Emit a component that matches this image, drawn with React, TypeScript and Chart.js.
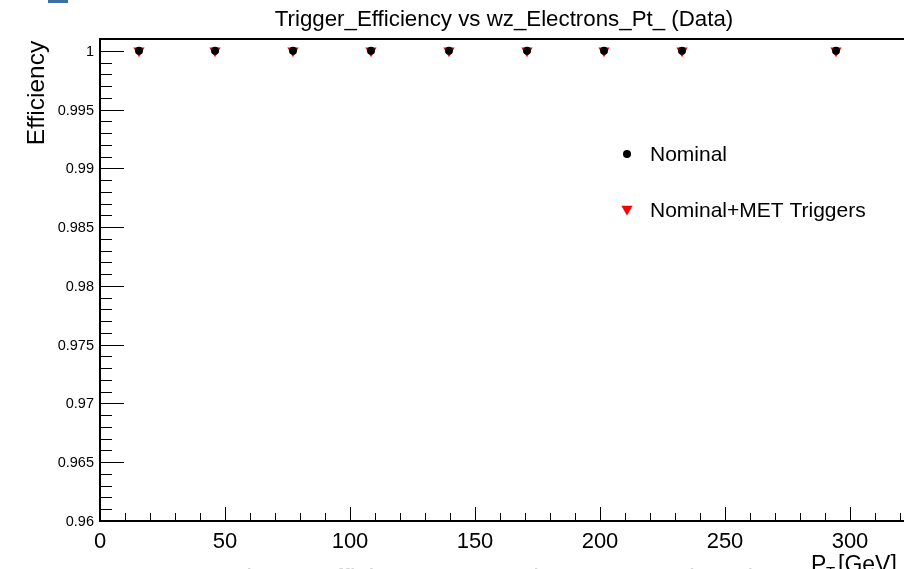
import React, { useEffect, useRef } from "react";
import { Chart, registerables } from "chart.js";

Chart.register(...registerables);

const ptValues = [15.6, 46, 77.2, 108.4, 139.6, 170.8, 201.6, 232.8, 294.4];
const nominalEff = [1, 1, 1, 1, 1, 1, 1, 1, 1];
const nominalMetEff = [1, 1, 1, 1, 1, 1, 1, 1, 1];

const xTickValues = [0, 50, 100, 150, 200, 250, 300];
const xTickLabels = ["0", "50", "100", "150", "200", "250", "300"];
const yTickValues = [0.96, 0.965, 0.97, 0.975, 0.98, 0.985, 0.99, 0.995, 1];
const yTickLabels = ["0.96", "0.965", "0.97", "0.975", "0.98", "0.985", "0.99", "0.995", "1"];

const titleText = "Trigger_Efficiency vs wz_Electrons_Pt_ (Data)";
const legendLabels = ["Nominal", "Nominal+MET Triggers"];
const FONT = '"Liberation Sans", Arial, Helvetica, sans-serif';

function drawCircle(ctx: CanvasRenderingContext2D, x: number, y: number, r: number, color: string) {
  ctx.fillStyle = color;
  ctx.beginPath();
  ctx.arc(x, y, r, 0, Math.PI * 2);
  ctx.fill();
}
function drawDownTri(ctx: CanvasRenderingContext2D, x: number, y: number, r: number, color: string) {
  ctx.fillStyle = color;
  ctx.beginPath();
  const h = r * Math.sqrt(3) / 2;
  ctx.moveTo(x - h, y - r / 2);
  ctx.lineTo(x + h, y - r / 2);
  ctx.lineTo(x, y + r);
  ctx.closePath();
  ctx.fill();
}

const rootPlugin = {
  id: "rootAxes",
  afterDraw(chart: any) {
    const ctx: CanvasRenderingContext2D = chart.ctx;
    const { left, top, right, bottom } = chart.chartArea;
    const xs = chart.scales.x;
    const ys = chart.scales.y;
    ctx.save();

    // blue mark top-left
    ctx.fillStyle = "#3e6fa3";
    ctx.fillRect(48, 0, 20, 3);

    // frame
    ctx.strokeStyle = "#000";
    ctx.lineWidth = 2;
    ctx.beginPath();
    ctx.moveTo(right + 2, top);
    ctx.lineTo(left, top);
    ctx.lineTo(left, bottom);
    ctx.lineTo(right + 2, bottom);
    ctx.stroke();

    // y ticks
    ctx.lineWidth = 1;
    ctx.beginPath();
    for (let i = 960; i <= 1001; i++) {
      const py = Math.round(ys.getPixelForValue(i / 1000)) + 0.5;
      const len = i % 5 === 0 ? 24 : 12;
      ctx.moveTo(left, py);
      ctx.lineTo(left + len, py);
    }
    // x ticks
    for (let v = 0; v <= 320; v += 10) {
      const px = Math.round(xs.getPixelForValue(v)) + 0.5;
      const len = v % 50 === 0 ? 14 : 8;
      ctx.moveTo(px, bottom);
      ctx.lineTo(px, bottom - len);
    }
    ctx.stroke();

    // y tick labels
    ctx.fillStyle = "#000";
    ctx.font = `14.5px ${FONT}`;
    ctx.textAlign = "right";
    ctx.textBaseline = "middle";
    yTickValues.forEach((v, i) => {
      ctx.fillText(yTickLabels[i], left - 6, ys.getPixelForValue(v) + 1);
    });

    // x tick labels
    ctx.font = `22px ${FONT}`;
    ctx.textAlign = "center";
    ctx.textBaseline = "middle";
    xTickValues.forEach((v, i) => {
      ctx.fillText(xTickLabels[i], xs.getPixelForValue(v), bottom + 21);
    });

    // title
    ctx.font = `22.3px ${FONT}`;
    ctx.textAlign = "center";
    ctx.textBaseline = "middle";
    ctx.fillText(titleText, 504, 20);

    // y axis title
    ctx.save();
    ctx.translate(37, 93);
    ctx.rotate(-Math.PI / 2);
    ctx.font = `24.5px ${FONT}`;
    ctx.textAlign = "center";
    ctx.textBaseline = "middle";
    ctx.fillText("Efficiency", 0, 0);
    ctx.restore();

    // x axis title (cut at bottom)
    ctx.font = `23px ${FONT}`;
    ctx.textAlign = "left";
    ctx.textBaseline = "alphabetic";
    ctx.fillText("P", 811, 572);
    ctx.font = `15px ${FONT}`;
    ctx.fillText("T", 826, 577);
    ctx.font = `23px ${FONT}`;
    ctx.fillText("[GeV]", 838, 572);

    // ghost text at bottom
    ctx.fillStyle = "#d4d4d4";
    ctx.font = `26px ${FONT}`;
    ctx.textAlign = "center";
    ctx.fillText(titleText, 490, 586.5);

    // legend
    drawCircle(ctx, 627, 154, 4, "#000");
    drawDownTri(ctx, 627, 209, 6.5, "#ff0000");
    ctx.fillStyle = "#000";
    ctx.font = `21px ${FONT}`;
    ctx.textAlign = "left";
    ctx.textBaseline = "middle";
    ctx.fillText(legendLabels[0], 650, 155);
    ctx.fillText(legendLabels[1], 650, 211);

    ctx.restore();
  },
};

export default function App() {
  const ref = useRef<HTMLCanvasElement | null>(null);
  useEffect(() => {
    if (!ref.current) return;
    const chart = new Chart(ref.current, {
      type: "scatter",
      data: {
        datasets: [
          {
            label: legendLabels[0],
            data: ptValues.map((x, i) => ({ x, y: nominalEff[i] })),
            pointStyle: "circle",
            pointRadius: 4,
            backgroundColor: "#000",
            borderColor: "#000",
            borderWidth: 0,
          },
          {
            label: legendLabels[1],
            data: ptValues.map((x, i) => ({ x, y: nominalMetEff[i] })),
            pointStyle: "triangle",
            rotation: 180,
            pointRadius: 6.5,
            backgroundColor: "#ff0000",
            borderColor: "#ff0000",
            borderWidth: 0,
          },
        ],
      },
      options: {
        animation: false,
        responsive: false,
        maintainAspectRatio: false,
        layout: { autoPadding: false, padding: { left: 100, top: 39, right: 0, bottom: 48 } },
        plugins: { legend: { display: false }, tooltip: { enabled: false }, title: { display: false } },
        scales: {
          x: { type: "linear", min: 0, max: 321.6, display: false },
          y: { type: "linear", min: 0.96, max: 1.001, display: false },
        },
      },
      plugins: [rootPlugin],
    });
    return () => chart.destroy();
  }, []);
  return (
    <div style={{ position: "fixed", left: 0, top: 0, width: 904, height: 569, background: "#fff" }}>
      <canvas ref={ref} width={904} height={569} style={{ display: "block", width: 904, height: 569 }} />
    </div>
  );
}
